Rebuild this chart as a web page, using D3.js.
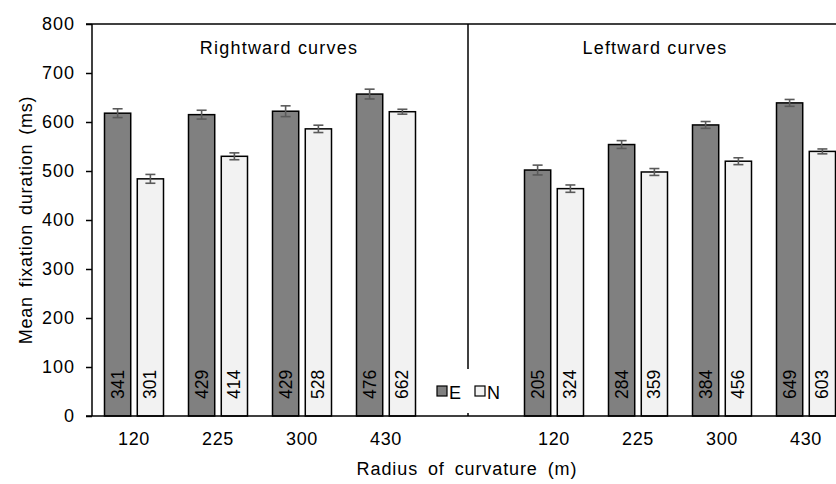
<!DOCTYPE html>
<html lang="en">
	<head>
		<meta charset="utf-8">
		<title>Mean fixation duration by radius of curvature</title>
		<script type="text/javascript" src="https://cdn.jsdelivr.net/npm/d3@7"></script>
		<style type="text/css">
			body { margin: 0; background: #fff; }
			text { font-family: "Liberation Sans", Arial, sans-serif; fill: #000; }
		</style>
	</head>
	<body>
		<script type="text/javascript">

			//Data
			var radii = ["120", "225", "300", "430"];
			var rightE = [618, 615, 622, 657];
			var rightEErr = [9, 9, 11, 10];
			var rightN = [484, 530, 586, 621];
			var rightNErr = [9, 7, 7.5, 5];
			var leftE = [502, 554, 594, 639];
			var leftEErr = [10, 8, 7, 7];
			var leftN = [464, 498, 520, 540];
			var leftNErr = [7.5, 7, 7, 5];
			var rightECount = [341, 429, 429, 476];
			var rightNCount = [301, 414, 528, 662];
			var leftECount = [205, 284, 384, 649];
			var leftNCount = [324, 359, 456, 603];
			var yTicks = [0, 100, 200, 300, 400, 500, 600, 700, 800];

			//Width and height
			var w = 836;
			var h = 484;
			var plotLeft = 92, plotTop = 24, plotBottom = 416;

			//slots: 4 rightward, one empty slot for legend, 4 leftward
			var slots = radii.map(function(r) { return "R" + r; })
				.concat(["gap"])
				.concat(radii.map(function(r) { return "L" + r; }));

			var bars = [];
			radii.forEach(function(r, i) {
				bars.push({slot: "R" + r, s: "E", v: rightE[i], e: rightEErr[i], n: rightECount[i]});
				bars.push({slot: "R" + r, s: "N", v: rightN[i], e: rightNErr[i], n: rightNCount[i]});
				bars.push({slot: "L" + r, s: "E", v: leftE[i], e: leftEErr[i], n: leftECount[i]});
				bars.push({slot: "L" + r, s: "N", v: leftN[i], e: leftNErr[i], n: leftNCount[i]});
			});

			var x0 = d3.scaleBand()
						.domain(slots)
						.range([plotLeft, plotLeft + 84 * slots.length]);

			var x1 = d3.scaleBand()
						.domain(["E", "N"])
						.range([12.5, 71.5])
						.paddingInner(0.2);

			var yScale = d3.scaleLinear()
							.domain([0, 800])
							.range([plotBottom, plotTop]);

			var colors = {E: "#808080", N: "#f2f2f2"};

			//Create SVG element
			var svg = d3.select("body")
						.append("svg")
						.attr("width", w)
						.attr("height", h);

			//top frame line
			svg.append("line")
			   .attr("x1", plotLeft - 6).attr("x2", w)
			   .attr("y1", yScale(800)).attr("y2", yScale(800))
			   .attr("stroke", "#000").attr("stroke-width", 1.5);

			//divider between the two panels
			var divX = x0("gap") + x0.bandwidth() / 2 - 2;
			svg.append("line")
			   .attr("x1", divX).attr("x2", divX)
			   .attr("y1", plotTop).attr("y2", plotBottom)
			   .attr("stroke", "#000").attr("stroke-width", 1.5);

			//Create bars
			svg.selectAll("rect.bar")
			   .data(bars)
			   .enter()
			   .append("rect")
			   .attr("class", "bar")
			   .attr("x", function(d) { return x0(d.slot) + x1(d.s); })
			   .attr("y", function(d) { return yScale(d.v); })
			   .attr("width", x1.bandwidth())
			   .attr("height", function(d) { return plotBottom - yScale(d.v); })
			   .attr("fill", function(d) { return colors[d.s]; })
			   .attr("stroke", "#000")
			   .attr("stroke-width", 1.5);

			//error bars
			var err = svg.selectAll("g.err")
			   .data(bars)
			   .enter()
			   .append("g")
			   .attr("class", "err")
			   .attr("stroke", "#5a5a5a")
			   .attr("stroke-width", 1.6);

			err.append("line")
			   .attr("x1", function(d) { return x0(d.slot) + x1(d.s) + x1.bandwidth() / 2; })
			   .attr("x2", function(d) { return x0(d.slot) + x1(d.s) + x1.bandwidth() / 2; })
			   .attr("y1", function(d) { return yScale(d.v + d.e); })
			   .attr("y2", function(d) { return yScale(d.v - d.e); });

			[1, -1].forEach(function(sign) {
				err.append("line")
				   .attr("x1", function(d) { return x0(d.slot) + x1(d.s) + x1.bandwidth() / 2 - 5; })
				   .attr("x2", function(d) { return x0(d.slot) + x1(d.s) + x1.bandwidth() / 2 + 5; })
				   .attr("y1", function(d) { return yScale(d.v + sign * d.e); })
				   .attr("y2", function(d) { return yScale(d.v + sign * d.e); });
			});

			//count labels inside bars
			svg.selectAll("text.count")
			   .data(bars)
			   .enter()
			   .append("text")
			   .attr("class", "count")
			   .text(function(d) { return d.n; })
			   .attr("transform", function(d) {
			   		var cx = x0(d.slot) + x1(d.s) + x1.bandwidth() / 2;
			   		return "translate(" + cx + "," + (plotBottom - 17) + ") rotate(-90)";
			   })
			   .attr("dominant-baseline", "central")
			   .attr("font-size", "17.5px");

			//y axis
			var yAxis = svg.append("g")
			   .attr("transform", "translate(" + plotLeft + ",0)")
			   .call(d3.axisLeft(yScale).tickValues(yTicks).tickSize(6).tickPadding(11));
			yAxis.select(".domain").attr("stroke-width", 1.5).attr("d", "M0," + plotTop + "V" + plotBottom);
			yAxis.selectAll(".tick line").attr("stroke-width", 1.5);
			yAxis.selectAll("text").attr("font-size", "18px").attr("letter-spacing", "1px").attr("font-family", null);

			//x axis
			var xAxis = svg.append("g")
			   .attr("transform", "translate(0," + plotBottom + ")")
			   .call(d3.axisBottom(x0).tickSize(0).tickPadding(16)
			   		.tickFormat(function(d) { return d === "gap" ? "" : d.slice(1); }));
			xAxis.select(".domain").attr("stroke-width", 1.5).attr("d", "M" + (plotLeft - 6) + ",0H" + w);
			xAxis.selectAll("text").attr("font-size", "18px").attr("letter-spacing", "0.6px").attr("font-family", null);

			//legend with white background covering the divider
			var legend = svg.append("g");
			legend.append("rect")
			   .attr("x", divX - 36).attr("y", 369)
			   .attr("width", 72).attr("height", 44)
			   .attr("fill", "#fff");
			[{s: "E", x: 437}, {s: "N", x: 475}].forEach(function(d) {
				legend.append("rect")
				   .attr("x", d.x).attr("y", 386)
				   .attr("width", 10).attr("height", 10)
				   .attr("fill", colors[d.s])
				   .attr("stroke", "#000").attr("stroke-width", 1.2);
				legend.append("text")
				   .attr("x", d.x + 12).attr("y", 399)
				   .attr("font-size", "18px")
				   .text(d.s);
			});

			//panel titles
			svg.append("text")
			   .attr("x", 279)
			   .attr("y", 54)
			   .attr("text-anchor", "middle")
			   .attr("font-size", "18px")
			   .attr("letter-spacing", "1.2px")
			   .text("Rightward curves");
			svg.append("text")
			   .attr("x", 655)
			   .attr("y", 54)
			   .attr("text-anchor", "middle")
			   .attr("font-size", "18px")
			   .attr("letter-spacing", "1.2px")
			   .text("Leftward curves");

			//axis titles
			svg.append("text")
			   .attr("x", 467)
			   .attr("y", 475)
			   .attr("text-anchor", "middle")
			   .attr("font-size", "18px")
			   .attr("letter-spacing", "0.9px")
			   .attr("word-spacing", "4px")
			   .text("Radius of curvature (m)");
			svg.append("text")
			   .attr("transform", "translate(32," + ((plotTop + plotBottom) / 2) + ") rotate(-90)")
			   .attr("text-anchor", "middle")
			   .attr("font-size", "18px")
			   .attr("letter-spacing", "0.8px")
			   .attr("word-spacing", "3px")
			   .text("Mean fixation duration (ms)");

		</script>
	</body>
</html>
